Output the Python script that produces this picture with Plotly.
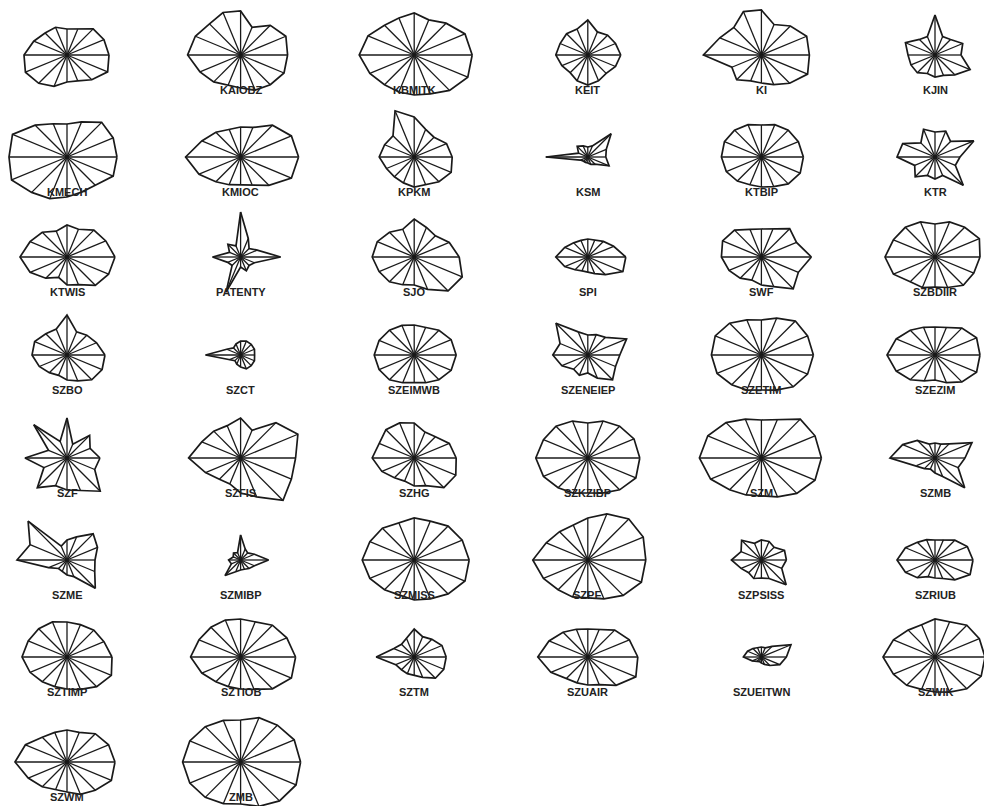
import numpy as np
import plotly.graph_objects as go

# Star (glyph) plot: one star per unit, 16 variables per star.
names = [
    "", "KAIOBZ", "KBMITK", "KEIT", "KI", "KJIN",
    "KMECH", "KMIOC", "KPKM", "KSM", "KTBIP", "KTR",
    "KTWIS", "PATENTY", "SJO", "SPI", "SWF", "SZBDIIR",
    "SZBO", "SZCT", "SZEIMWB", "SZENEIEP", "SZETIM", "SZEZIM",
    "SZF", "SZFIS", "SZHG", "SZKZIBP", "SZM", "SZMB",
    "SZME", "SZMIBP", "SZMISS", "SZPE", "SZPSISS", "SZRIUB",
    "SZTIMP", "SZTIOB", "SZTM", "SZUAIR", "SZUEITWN", "SZWIK",
    "SZWM", "ZMB",
]

# Scores of the 16 variables (counter-clockwise from the east ray)
s_first    = [42, 40, 37, 28, 26, 30, 31, 36, 43, 45, 40, 34, 27, 28, 35, 44]
s_kaiobz   = [47, 49, 42, 30, 44, 46, 44, 49, 53, 44, 38, 33, 33, 38, 42, 47]
s_kbmitk   = [58, 55, 45, 38, 42, 40, 42, 50, 55, 48, 42, 40, 40, 42, 50, 58]
s_keit     = [33, 30, 28, 25, 35, 28, 30, 30, 32, 28, 25, 28, 30, 28, 26, 30]
s_ki       = [48, 49, 41, 33, 45, 47, 39, 45, 58, 32, 35, 28, 28, 32, 40, 50]
s_kjin     = [26, 30, 22, 20, 40, 20, 22, 32, 27, 26, 25, 20, 22, 22, 28, 38]
s_kmech    = [50, 50, 49, 38, 33, 36, 45, 59, 58, 60, 50, 45, 40, 38, 40, 50]
s_kmioc    = [58, 55, 45, 32, 30, 30, 35, 42, 55, 45, 35, 30, 28, 30, 40, 55]
s_kpkm     = [38, 35, 28, 30, 40, 50, 30, 32, 35, 30, 28, 28, 30, 30, 35, 40]
s_ksm      = [18, 20, 33, 12, 10, 12, 15, 10, 42, 8, 6, 6, 6, 8, 10, 23]
s_ktbip    = [42, 40, 38, 35, 32, 35, 38, 40, 40, 38, 34, 30, 30, 32, 38, 42]
s_ktr      = [25, 42, 22, 28, 25, 30, 20, 35, 38, 22, 28, 20, 22, 20, 40, 22]
s_ktwis    = [48, 42, 38, 30, 32, 28, 35, 40, 47, 40, 30, 22, 28, 30, 40, 45]
s_patenty  = [40, 18, 12, 20, 45, 12, 18, 12, 28, 14, 12, 38, 10, 15, 12, 15]
s_sjo      = [45, 38, 30, 32, 38, 30, 35, 40, 42, 38, 35, 30, 28, 35, 48, 52]
s_spi      = [38, 28, 22, 18, 18, 18, 20, 25, 32, 25, 18, 15, 15, 18, 25, 38]
s_swf      = [50, 38, 40, 30, 28, 30, 38, 42, 40, 35, 30, 25, 28, 32, 45, 40]
s_szbdiir  = [45, 48, 42, 38, 33, 38, 42, 45, 50, 45, 35, 33, 30, 33, 40, 42]
s_szbo     = [38, 32, 28, 25, 40, 28, 30, 35, 35, 30, 25, 22, 25, 28, 35, 38]
s_szct     = [14, 15, 15, 15, 14, 12, 10, 15, 35, 12, 8, 10, 12, 15, 15, 15]
s_szeimwb  = [42, 40, 35, 30, 30, 32, 35, 38, 40, 38, 35, 30, 28, 30, 35, 40]
s_szeneiep = [32, 42, 25, 22, 20, 25, 45, 30, 35, 28, 20, 22, 18, 25, 35, 30]
s_szetim   = [52, 50, 48, 40, 35, 38, 45, 50, 50, 48, 42, 38, 35, 38, 45, 50]
s_szezim   = [45, 45, 38, 30, 28, 30, 35, 42, 48, 42, 35, 28, 25, 30, 38, 45]
s_szf      = [33, 25, 32, 15, 40, 18, 47, 20, 42, 25, 42, 30, 32, 35, 47, 30]
s_szfis    = [55, 62, 50, 30, 40, 35, 38, 42, 52, 38, 30, 28, 35, 42, 60, 55]
s_szhg     = [42, 38, 30, 28, 35, 38, 40, 38, 42, 35, 28, 25, 28, 30, 42, 45]
s_szkzibp  = [52, 50, 45, 40, 35, 40, 45, 48, 52, 48, 42, 38, 35, 38, 45, 52]
s_szm      = [60, 58, 55, 42, 38, 42, 50, 58, 62, 55, 45, 40, 38, 42, 50, 58]
s_szmb     = [30, 40, 20, 15, 15, 15, 25, 35, 45, 20, 15, 12, 15, 20, 42, 25]
s_szme     = [28, 33, 37, 25, 20, 15, 55, 40, 50, 20, 12, 12, 15, 18, 40, 30]
s_szmibp   = [28, 15, 10, 12, 25, 8, 10, 8, 12, 10, 22, 12, 10, 10, 12, 15]
s_szmiss   = [55, 52, 48, 42, 42, 40, 45, 48, 52, 48, 42, 38, 40, 42, 48, 55]
s_szpe     = [58, 60, 58, 50, 42, 38, 40, 45, 55, 48, 42, 40, 38, 42, 50, 58]
s_szpsiss  = [25, 25, 18, 20, 20, 18, 28, 22, 30, 22, 18, 20, 18, 20, 35, 22]
s_szriub   = [38, 35, 28, 22, 20, 22, 25, 32, 38, 32, 25, 18, 18, 20, 28, 38]
s_sztimp   = [45, 40, 38, 35, 35, 38, 40, 42, 45, 40, 35, 32, 32, 35, 42, 48]
s_sztiob   = [55, 50, 45, 38, 38, 40, 42, 45, 50, 42, 35, 32, 32, 35, 45, 55]
s_sztm     = [32, 30, 25, 22, 28, 20, 18, 22, 38, 20, 18, 18, 18, 22, 30, 32]
s_szuair   = [50, 45, 38, 30, 28, 30, 35, 42, 50, 40, 30, 28, 28, 30, 40, 52]
s_szueitwn = [25, 32, 15, 10, 10, 10, 12, 15, 18, 10, 6, 5, 6, 8, 12, 20]
s_szwik    = [50, 48, 45, 38, 38, 35, 38, 45, 52, 45, 40, 35, 35, 38, 45, 50]
s_szwm     = [48, 45, 40, 32, 32, 32, 35, 45, 52, 42, 35, 30, 30, 35, 40, 48]
s_zmb      = [60, 58, 52, 48, 42, 45, 50, 55, 58, 55, 50, 45, 42, 48, 55, 60]

scores = [
    s_first, s_kaiobz, s_kbmitk, s_keit, s_ki, s_kjin,
    s_kmech, s_kmioc, s_kpkm, s_ksm, s_ktbip, s_ktr,
    s_ktwis, s_patenty, s_sjo, s_spi, s_swf, s_szbdiir,
    s_szbo, s_szct, s_szeimwb, s_szeneiep, s_szetim, s_szezim,
    s_szf, s_szfis, s_szhg, s_szkzibp, s_szm, s_szmb,
    s_szme, s_szmibp, s_szmiss, s_szpe, s_szpsiss, s_szriub,
    s_sztimp, s_sztiob, s_sztm, s_szuair, s_szueitwn, s_szwik,
    s_szwm, s_zmb,
]

# Grid layout of the glyphs (page pixel units)
W, H = 984, 806
N_COLS = 6
COL_X0, COL_STEP = 67, 173.6
ROW_Y = [55, 157, 257, 355, 458, 560, 657, 762]
SCALE = 1.0          # pixels per score unit
LABEL_DY = 35

n_var = len(scores[0])
theta = np.arange(n_var) * 2 * np.pi / n_var

fig = go.Figure()
ann = []
for i, (nm, sc) in enumerate(zip(names, scores)):
    cx = COL_X0 + (i % N_COLS) * COL_STEP
    cy = ROW_Y[i // N_COLS]
    r = np.asarray(sc, float) * SCALE
    px = cx + r * np.cos(theta)
    py = cy - r * np.sin(theta)
    # outline
    fig.add_trace(go.Scatter(
        x=np.append(px, px[0]), y=np.append(py, py[0]), mode="lines",
        line=dict(color="#1a1a1a", width=1.7), hoverinfo="skip"))
    # spokes
    sx, sy = [], []
    for a, b in zip(px, py):
        sx += [cx, a, None]
        sy += [cy, b, None]
    fig.add_trace(go.Scatter(
        x=sx, y=sy, mode="lines",
        line=dict(color="#1a1a1a", width=1.3), hoverinfo="skip"))
    if nm:
        ann.append(dict(x=cx, y=cy + LABEL_DY, text="<b>" + nm + "</b>",
                        showarrow=False, xanchor="center", yanchor="middle",
                        font=dict(family="Liberation Sans, Arial", size=11,
                                  color="#222")))

fig.update_layout(
    width=W, height=H, showlegend=False,
    margin=dict(l=0, r=0, t=0, b=0),
    paper_bgcolor="white", plot_bgcolor="white",
    xaxis=dict(range=[0, W], visible=False, fixedrange=True),
    yaxis=dict(range=[H, 0], visible=False, fixedrange=True),
    annotations=ann,
)
fig.write_html("out.html")
